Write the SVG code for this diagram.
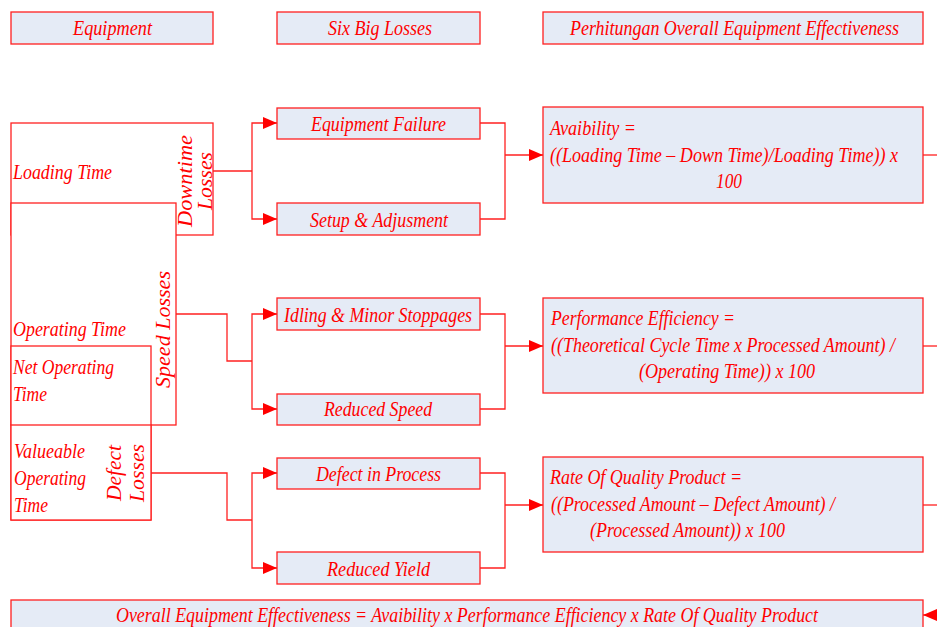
<svg xmlns="http://www.w3.org/2000/svg" width="937" height="627" viewBox="0 0 937 627">
  <style>
    .t { font-family: "Liberation Serif", "Times New Roman", serif; font-style: italic; font-size: 21px; fill: #ff0000; }
    .box { fill: #e5ebf6; stroke: #ff2020; stroke-width: 1.3; }
    .plain { fill: #ffffff; stroke: #ff2020; stroke-width: 1.3; }
    .wire { fill: none; stroke: #ff2020; stroke-width: 1.3; }
  </style>
  <defs>
    <marker id="arrow" markerUnits="userSpaceOnUse" markerWidth="15" markerHeight="12" refX="14" refY="6" orient="auto">
      <path d="M0,0 L14,6 L0,12 Z" fill="#ff0000"/>
    </marker>
  </defs>
  <rect width="937" height="627" fill="#ffffff"/>

  <!-- column headers (text is set condensed: scale 0.85 horizontally) -->
  <g id="hdr-equipment">
    <rect class="box" x="11" y="12" width="202" height="32"/>
    <text class="t" transform="translate(73,34.5) scale(0.85,1)" textLength="92.9" lengthAdjust="spacingAndGlyphs">Equipment</text>
  </g>
  <g id="hdr-losses">
    <rect class="box" x="277" y="12" width="203" height="32"/>
    <text class="t" transform="translate(328,34.5) scale(0.85,1)" textLength="122.4" lengthAdjust="spacingAndGlyphs">Six Big Losses</text>
  </g>
  <g id="hdr-oee">
    <rect class="box" x="543" y="12" width="380" height="32"/>
    <text class="t" transform="translate(570,34.5) scale(0.85,1)" textLength="387.1" lengthAdjust="spacingAndGlyphs">Perhitungan Overall Equipment Effectiveness</text>
  </g>

  <!-- nested equipment time blocks -->
  <g id="loading-time">
    <rect class="plain" x="11" y="123" width="202" height="112"/>
    <text class="t" transform="translate(13,178.5) scale(0.85,1)" textLength="116.5" lengthAdjust="spacingAndGlyphs">Loading Time</text>
    <text class="t" transform="translate(192,181) rotate(-90) scale(0.85,1)" text-anchor="middle" textLength="108.2" lengthAdjust="spacingAndGlyphs">Downtime</text>
    <text class="t" transform="translate(212,181) rotate(-90) scale(0.85,1)" text-anchor="middle" textLength="68.2" lengthAdjust="spacingAndGlyphs">Losses</text>
  </g>
  <g id="operating-time">
    <rect class="plain" x="11" y="203" width="165" height="222"/>
    <text class="t" transform="translate(13,336) scale(0.85,1)" textLength="132.9" lengthAdjust="spacingAndGlyphs">Operating Time</text>
    <text class="t" transform="translate(170,329.5) rotate(-90) scale(0.85,1)" text-anchor="middle" textLength="137.6" lengthAdjust="spacingAndGlyphs">Speed Losses</text>
  </g>
  <g id="net-operating-time">
    <rect class="plain" x="11" y="346" width="140" height="174"/>
    <text class="t" transform="translate(13,374) scale(0.85,1)" textLength="118.8" lengthAdjust="spacingAndGlyphs">Net Operating</text>
    <text class="t" transform="translate(13,401) scale(0.85,1)" textLength="40" lengthAdjust="spacingAndGlyphs">Time</text>
  </g>
  <g id="valueable-operating-time">
    <rect class="plain" x="11" y="425" width="140" height="95"/>
    <text class="t" transform="translate(14,458) scale(0.85,1)" textLength="83.5" lengthAdjust="spacingAndGlyphs">Valueable</text>
    <text class="t" transform="translate(14,485) scale(0.85,1)" textLength="84.7" lengthAdjust="spacingAndGlyphs">Operating</text>
    <text class="t" transform="translate(14,512) scale(0.85,1)" textLength="40" lengthAdjust="spacingAndGlyphs">Time</text>
    <text class="t" transform="translate(121,473) rotate(-90) scale(0.85,1)" text-anchor="middle" textLength="65.9" lengthAdjust="spacingAndGlyphs">Defect</text>
    <text class="t" transform="translate(144,473) rotate(-90) scale(0.85,1)" text-anchor="middle" textLength="68.2" lengthAdjust="spacingAndGlyphs">Losses</text>
  </g>

  <!-- six big losses -->
  <g id="equipment-failure">
    <rect class="box" x="277" y="108" width="203" height="31"/>
    <text class="t" transform="translate(311,131) scale(0.85,1)" textLength="158.8" lengthAdjust="spacingAndGlyphs">Equipment Failure</text>
  </g>
  <g id="setup-adjustment">
    <rect class="box" x="277" y="203" width="203" height="32"/>
    <text class="t" transform="translate(310,227) scale(0.85,1)" textLength="162.4" lengthAdjust="spacingAndGlyphs">Setup &amp; Adjusment</text>
  </g>
  <g id="idling-minor-stoppages">
    <rect class="box" x="277" y="298" width="203" height="32"/>
    <text class="t" transform="translate(284,322) scale(0.85,1)" textLength="221.2" lengthAdjust="spacingAndGlyphs">Idling &amp; Minor Stoppages</text>
  </g>
  <g id="reduced-speed">
    <rect class="box" x="277" y="394" width="203" height="31"/>
    <text class="t" transform="translate(324,416) scale(0.85,1)" textLength="127.1" lengthAdjust="spacingAndGlyphs">Reduced Speed</text>
  </g>
  <g id="defect-in-process">
    <rect class="box" x="277" y="458" width="203" height="31"/>
    <text class="t" transform="translate(316,481) scale(0.85,1)" textLength="147.1" lengthAdjust="spacingAndGlyphs">Defect in Process</text>
  </g>
  <g id="reduced-yield">
    <rect class="box" x="277" y="552" width="203" height="32"/>
    <text class="t" transform="translate(327,576) scale(0.85,1)" textLength="121.2" lengthAdjust="spacingAndGlyphs">Reduced Yield</text>
  </g>

  <!-- OEE formulas -->
  <g id="availability">
    <rect class="box" x="543" y="107" width="380" height="96"/>
    <text class="t" transform="translate(550,135) scale(0.85,1)" textLength="101.2" lengthAdjust="spacingAndGlyphs">Avaibility =</text>
    <text class="t" transform="translate(550,161.5) scale(0.85,1)" textLength="409.4" lengthAdjust="spacingAndGlyphs">((Loading Time – Down Time)/Loading Time)) x</text>
    <text class="t" transform="translate(716,188) scale(0.85,1)" textLength="30.6" lengthAdjust="spacingAndGlyphs">100</text>
  </g>
  <g id="performance-efficiency">
    <rect class="box" x="543" y="298" width="380" height="95"/>
    <text class="t" transform="translate(551,325) scale(0.85,1)" textLength="216.5" lengthAdjust="spacingAndGlyphs">Performance Efficiency =</text>
    <text class="t" transform="translate(551,351.5) scale(0.85,1)" textLength="404.7" lengthAdjust="spacingAndGlyphs">((Theoretical Cycle Time x Processed Amount) /</text>
    <text class="t" transform="translate(639,378) scale(0.85,1)" textLength="207.1" lengthAdjust="spacingAndGlyphs">(Operating Time)) x 100</text>
  </g>
  <g id="quality-rate">
    <rect class="box" x="543" y="457" width="380" height="95"/>
    <text class="t" transform="translate(550,484) scale(0.85,1)" textLength="225.9" lengthAdjust="spacingAndGlyphs">Rate Of Quality Product =</text>
    <text class="t" transform="translate(551,511) scale(0.85,1)" textLength="334.1" lengthAdjust="spacingAndGlyphs">((Processed Amount – Defect Amount) /</text>
    <text class="t" transform="translate(590,537) scale(0.85,1)" textLength="229.4" lengthAdjust="spacingAndGlyphs">(Processed Amount)) x 100</text>
  </g>
  <g id="oee-total">
    <rect class="box" x="11" y="600" width="912" height="40"/>
    <text class="t" transform="translate(116,622) scale(0.85,1)" textLength="825.9" lengthAdjust="spacingAndGlyphs">Overall Equipment Effectiveness = Avaibility x Performance Efficiency x Rate Of Quality Product</text>
  </g>

  <!-- connectors -->
  <g id="connectors">
    <!-- downtime losses split -->
    <path class="wire" d="M213,171 H252"/>
    <path class="wire" d="M252,171 V123 H277" marker-end="url(#arrow)"/>
    <path class="wire" d="M252,171 V219 H277" marker-end="url(#arrow)"/>
    <!-- speed losses split -->
    <path class="wire" d="M176,314 H227 V361 H252"/>
    <path class="wire" d="M252,361 V314 H277" marker-end="url(#arrow)"/>
    <path class="wire" d="M252,361 V409 H277" marker-end="url(#arrow)"/>
    <!-- defect losses split -->
    <path class="wire" d="M151,473 H227 V520 H252"/>
    <path class="wire" d="M252,520 V473 H277" marker-end="url(#arrow)"/>
    <path class="wire" d="M252,520 V568 H277" marker-end="url(#arrow)"/>
    <!-- losses merged into formulas -->
    <path class="wire" d="M480,123 H505 V219 H480"/>
    <path class="wire" d="M505,155 H543" marker-end="url(#arrow)"/>
    <path class="wire" d="M480,314 H505 V409 H480"/>
    <path class="wire" d="M505,346 H543" marker-end="url(#arrow)"/>
    <path class="wire" d="M480,473 H505 V568 H480"/>
    <path class="wire" d="M505,505 H543" marker-end="url(#arrow)"/>
    <!-- formulas out to the total -->
    <path class="wire" d="M923,155 H950"/>
    <path class="wire" d="M923,346 H950"/>
    <path class="wire" d="M923,505 H950"/>
    <path class="wire" d="M950,155 V615"/>
    <path class="wire" d="M950,615 H923" marker-end="url(#arrow)"/>
  </g>
</svg>
